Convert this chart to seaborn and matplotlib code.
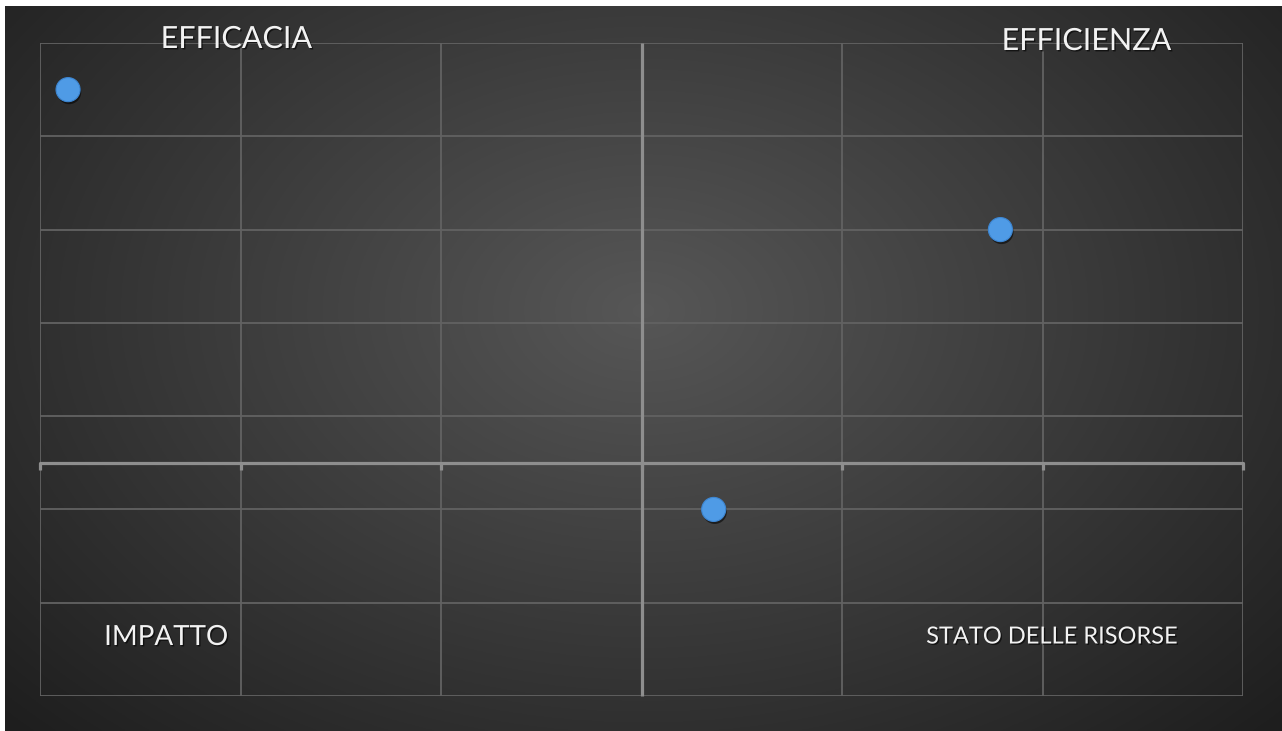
import numpy as np
import pandas as pd
import matplotlib
matplotlib.use("Agg")
import matplotlib.pyplot as plt
import matplotlib.patheffects as pe
import seaborn as sns

# data
x_vals = [-2.86, 1.79, 0.36]
y_vals = [4.0, 2.5, -0.5]
x_ticks = [-3, -2, -1, 0, 1, 2, 3]
y_ticks = [-2.5, -1.5, -0.5, 0.5, 1.5, 2.5, 3.5, 4.5]
quadrant_labels = ["EFFICACIA", "EFFICIENZA", "IMPATTO", "STATO DELLE RISORSE"]

df = pd.DataFrame({"x": x_vals, "y": y_vals})

W, H = 1282, 731
fig = plt.figure(figsize=(W / 100, H / 100), dpi=100, facecolor="white")
plt.rcParams["font.family"] = ["Lato", "DejaVu Sans"]

# dark radial background
bg = fig.add_axes([5 / W, 0, 1 - 5 / W, 1 - 6 / H])
yy, xx = np.mgrid[0:1:400j, 0:1:700j]
r = np.sqrt(((xx - 0.5) / 0.62) ** 2 + ((yy - 0.42) / 0.75) ** 2)
shade = np.clip(0.34 - 0.2 * r, 0.12, 0.35)
bg.imshow(np.dstack([shade] * 3), aspect="auto", extent=[0, 1, 1, 0])
bg.set_axis_off()

ax = fig.add_axes([40 / W, 1 - 696 / H, (1243 - 40) / W, (696 - 43) / H])
ax.patch.set_alpha(0)
ax.set_xlim(-3, 3)
ax.set_ylim(-2.5, 4.5)

grid_col = "#626262"
axis_col = "#8e8e8e"
ax.set_xticks(x_ticks)
ax.set_yticks(y_ticks)
ax.grid(True, color=grid_col, linewidth=1.3)
ax.set_axisbelow(True)

for side in ["top", "right"]:
    ax.spines[side].set_visible(False)
ax.spines["bottom"].set_position(("data", 0))
ax.spines["left"].set_position(("data", 0))
ax.spines["bottom"].set_color(axis_col)
ax.spines["left"].set_color(axis_col)
ax.spines["bottom"].set_linewidth(2.3)
ax.spines["left"].set_linewidth(2.3)
ax.spines["left"].set_capstyle("butt")
ax.spines["bottom"].set_capstyle("round")
ax.tick_params(axis="x", direction="out", length=5, width=2.3, color=axis_col,
               labelbottom=False)
ax.tick_params(axis="y", length=0, labelleft=False)

sns.scatterplot(data=df, x="x", y="y", ax=ax, s=300, color="#4f9be6",
                edgecolor="#3d86d2", linewidth=0.8, zorder=5, clip_on=False)
ax.collections[-1].set_path_effects([
    pe.SimplePatchShadow(offset=(0.8, -1.8), shadow_rgbFace="black", alpha=0.55),
    pe.Normal()])
ax.set_xlabel("")
ax.set_ylabel("")

txt_fx = [pe.withSimplePatchShadow(offset=(1, -1), shadow_rgbFace="black", alpha=0.6)]
fig.text(236 / W, 1 - 39 / H, quadrant_labels[0], color="#f2f2f2", fontsize=22,
         ha="center", va="center", path_effects=txt_fx)
fig.text(1086 / W, 1 - 41 / H, quadrant_labels[1], color="#f2f2f2", fontsize=22,
         ha="center", va="center", path_effects=txt_fx)
fig.text(166 / W, 1 - 637 / H, quadrant_labels[2], color="#f2f2f2", fontsize=20,
         ha="center", va="center", path_effects=txt_fx)
fig.text(1052 / W, 1 - 637 / H, quadrant_labels[3], color="#f2f2f2", fontsize=17,
         ha="center", va="center", path_effects=txt_fx)

fig.savefig("out.png", dpi=100, facecolor="white")
